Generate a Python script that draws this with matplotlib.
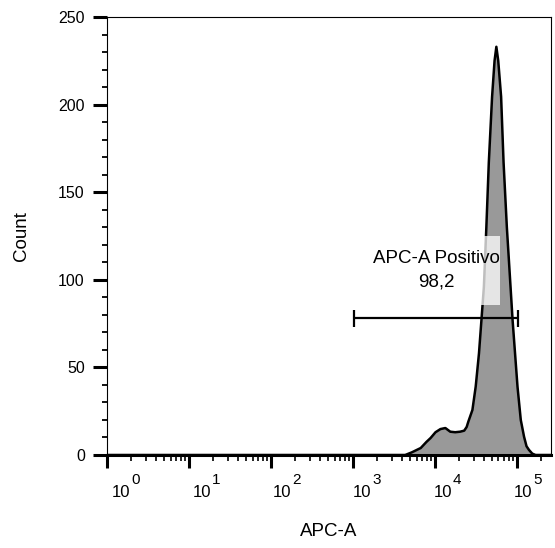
import numpy as np
import matplotlib
matplotlib.use("Agg")
import matplotlib.pyplot as plt
from matplotlib import transforms
from matplotlib.patches import Rectangle
from matplotlib.ticker import FixedLocator, LogLocator, MultipleLocator, NullFormatter

plt.rcParams["font.family"] = ["Liberation Sans", "DejaVu Sans"]

# histogram outline: log10(APC-A) and count
APC_LOG10 = [0.0, 3.64, 3.72, 3.83, 3.90, 3.95, 4.01, 4.07, 4.13, 4.19, 4.25,
             4.31, 4.36, 4.39, 4.41, 4.46, 4.50, 4.54, 4.57, 4.60, 4.63, 4.66,
             4.70, 4.73, 4.752, 4.775, 4.81, 4.84, 4.88, 4.90, 4.95, 4.98,
             5.01, 5.05, 5.09, 5.12, 5.15, 5.19, 5.23, 5.4185]
COUNTS = [0, 0, 1.5, 4, 7.5, 9.7, 13, 14.8, 15.4, 13.3, 13.0,
          13.3, 13.9, 16, 19, 25.7, 39, 58, 77, 96, 130, 167,
          204.5, 225, 233, 225, 204.5, 167, 130, 115, 77, 58,
          39, 20, 10.4, 5, 2.9, 0.8, 0, 0]

# gate "APC-A Positivo"
GATE_NAME = "APC-A Positivo"
GATE_PCT = "98,2"
GATE_LO = 10 ** 3.02
GATE_HI = 10 ** 5.01
GATE_Y = 78

X_DECADES = [0, 1, 2, 3, 4, 5]
Y_TICKS = [0, 50, 100, 150, 200, 250]

x = 10 ** np.array(APC_LOG10)
y = np.array(COUNTS)

fig = plt.figure(figsize=(5.55, 5.48), dpi=100)
ax = fig.add_axes([0.1923, 0.1697, 0.8005, 0.7993])

ax.fill_between(x, y, 0, color="#999999", lw=0, zorder=2)
ax.plot(x, y, color="black", lw=1.8, zorder=3, solid_joinstyle="round")

# gate bar with end caps
ax.hlines(GATE_Y, GATE_LO, GATE_HI, color="black", lw=1.6, zorder=4)
ax.vlines([GATE_LO, GATE_HI], GATE_Y - 4.8, GATE_Y + 4.8, color="black", lw=1.6, zorder=4)

# translucent label box (only shows where it overlaps the peak)
ax.add_patch(Rectangle((10 ** 3.2, 85.6), 10 ** 4.797 - 10 ** 3.2, 39.4,
                       facecolor="white", alpha=0.75, edgecolor="none", zorder=4.5))
ax.text(10 ** 4.016, 105.5, f"{GATE_NAME}\n{GATE_PCT}", ha="center", va="center",
        multialignment="center", fontsize=13.5, linespacing=1.5, zorder=5)

ax.set_xscale("log")
ax.set_xlim(1, 262144)
ax.set_ylim(0, 250)

ax.xaxis.set_major_locator(FixedLocator([10 ** d for d in X_DECADES]))
ax.xaxis.set_minor_locator(LogLocator(base=10, subs=range(2, 10), numticks=20))
ax.xaxis.set_minor_formatter(NullFormatter())
ax.yaxis.set_major_locator(FixedLocator(Y_TICKS))
ax.yaxis.set_minor_locator(MultipleLocator(10))

ax.tick_params(axis="x", which="major", direction="out", length=9.4, width=2.2,
               labelbottom=False)
ax.tick_params(axis="x", which="minor", direction="out", length=4.3, width=1.2)
ax.tick_params(axis="y", which="major", direction="out", length=9.8, width=2.2,
               labelsize=11.5, pad=6)
ax.tick_params(axis="y", which="minor", direction="out", length=3.6, width=1.3)

# decade labels: "10" with a near full-size raised exponent
xform = ax.get_xaxis_transform()
for d in X_DECADES:
    dx = (14.6 - 1.66 * d) / 100
    base = transforms.ScaledTranslation(dx, -0.415, fig.dpi_scale_trans)
    sup = transforms.ScaledTranslation(dx + 0.10, -0.285, fig.dpi_scale_trans)
    ax.text(10 ** d, 0, "10", transform=xform + base, ha="center", va="baseline",
            fontsize=12, clip_on=False)
    ax.text(10 ** d, 0, str(d), transform=xform + sup, ha="left", va="baseline",
            fontsize=11, clip_on=False)

for side in ["top", "right", "left"]:
    ax.spines[side].set_linewidth(0.8)
ax.spines["bottom"].set_linewidth(2.2)

ax.set_xlabel("APC-A", fontsize=13.5, va="center")
ax.set_ylabel("Count", fontsize=13.5, va="center")
ax.xaxis.set_label_coords(0.5, -0.1735)
ax.yaxis.set_label_coords(-0.191, 0.5)

fig.savefig("out.png", dpi=100)
plt.close(fig)
